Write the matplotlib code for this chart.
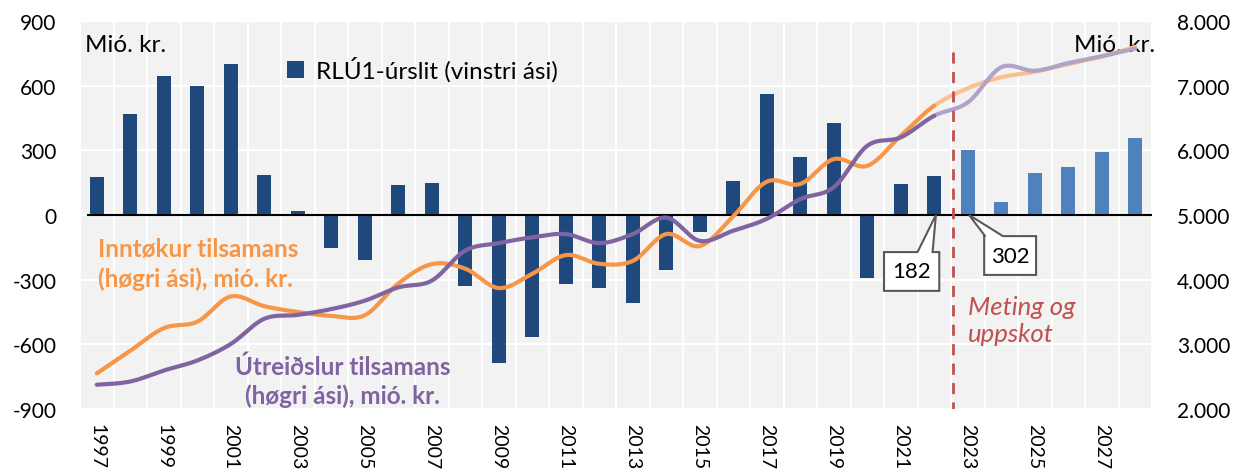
import numpy as np
import matplotlib
matplotlib.use("Agg")
import matplotlib.pyplot as plt
from matplotlib.patches import Polygon

plt.rcParams['font.family'] = ['Lato', 'DejaVu Sans']

years = list(range(1997, 2029))
balance = [178, 470, 645, 598, 700, 186, 20, -152, -208, 140, 150,
           -330, -685, -565, -320, -337, -410, -255, -77, 160, 562,
           270, 425, -290, 142, 182, 302, 60, 197, 225, 290, 355]
revenue = [2550, 2900, 3250, 3350, 3740, 3590, 3500, 3440, 3450, 3940, 4240,
           4170, 3870, 4090, 4380, 4245, 4290, 4705, 4520, 4980, 5515,
           5480, 5865, 5760, 6225, 6690, 6960, 7130, 7215, 7335, 7450, 7600]
expenses = [2375, 2425, 2595, 2750, 3005, 3395, 3455, 3545, 3675, 3880, 3985,
            4450, 4565, 4655, 4705, 4565, 4705, 4960, 4600, 4757, 4940,
            5245, 5430, 6070, 6200, 6535, 6740, 7285, 7230, 7350, 7455, 7575]
last_actual = 2022

dark_blue = '#1F497D'
light_blue = '#4F81BD'
orange = '#F79646'
light_orange = '#FAC090'
purple = '#8064A2'
light_purple = '#B3A2C7'
red = '#C0504D'

W, H = 1238, 477
fig = plt.figure(figsize=(W / 100, H / 100), dpi=100)
L, R, T, B = 80, 1152, 22, 410
ax = fig.add_axes([L / W, (H - B) / H, (R - L) / W, (B - T) / H])
ax2 = ax.twinx()

x = np.arange(len(years))
ax.set_facecolor('#F2F2F2')
ax.set_xlim(-0.5, len(years) - 0.5)
ax.set_ylim(-900, 900)
ax.set_yticks(np.arange(-900, 901, 300))
ax.set_yticklabels([f"{v}" for v in range(-900, 901, 300)])
ax.set_xticks(x[::2])
ax.set_xticklabels([str(y) for y in years[::2]], rotation=-90)
ax.set_xticks(np.arange(-0.5, len(years), 1), minor=True)
ax.grid(True, which='minor', axis='x', color='white', lw=1.5)
ax.grid(True, which='major', axis='y', color='white', lw=1.5)
ax.set_axisbelow(True)
for s in ax.spines.values():
    s.set_visible(False)
for s in ax2.spines.values():
    s.set_visible(False)
ax.tick_params(axis='both', which='both', length=0, labelsize=15)
ax.tick_params(axis='y', pad=17)
ax.tick_params(axis='x', pad=10, labelsize=14)

colors = [dark_blue if y <= last_actual else light_blue for y in years]
bars = ax.bar(x, balance, width=0.42, color=colors, zorder=2)
ax.plot([-0.26, len(years) - 0.5], [0, 0], color='black', lw=1.5, zorder=3)

# right axis
ax2.set_ylim(2000, 8000)
ax2.set_yticks(np.arange(2000, 8001, 1000))
ax2.set_yticklabels([f"{v // 1000}.000" for v in range(2000, 8001, 1000)])
ax2.tick_params(axis='y', length=0, labelsize=15, pad=18)


def catmull(xs, ys, n=30):
    xs = np.asarray(xs, float)
    ys = np.asarray(ys, float)
    px = np.concatenate([[xs[0]], xs, [xs[-1]]])
    py = np.concatenate([[ys[0]], ys, [ys[-1]]])
    ox, oy = [], []
    t = np.linspace(0, 1, n, endpoint=False)
    for i in range(1, len(px) - 2):
        for arr, out in ((px, ox), (py, oy)):
            p0, p1, p2, p3 = arr[i - 1], arr[i], arr[i + 1], arr[i + 2]
            out.extend(0.5 * ((2 * p1) + (-p0 + p2) * t +
                              (2 * p0 - 5 * p1 + 4 * p2 - p3) * t ** 2 +
                              (-p0 + 3 * p1 - 3 * p2 + p3) * t ** 3))
    ox.append(xs[-1]); oy.append(ys[-1])
    return np.array(ox), np.array(oy)


split = years.index(last_actual)
for vals, c1, c2 in ((revenue, orange, light_orange), (expenses, purple, light_purple)):
    sx, sy = catmull(x, vals)
    m1 = sx <= split
    m2 = sx >= split
    ax2.plot(sx[m2], sy[m2], color=c2, lw=3.0, solid_capstyle='round', zorder=4)
    ax2.plot(sx[m1], sy[m1], color=c1, lw=3.0, solid_capstyle='round', zorder=5)

# forecast divider
ax2.plot([split + 0.55, split + 0.55], [7520, 2000], color=red, lw=2, ls=(0, (4, 3)), zorder=6)
ax2.text(split + 1.0, 3380, "Meting og\nuppskot", color=red, fontsize=18.5,
         style='italic', va='center', ha='left', linespacing=1.2)

# texts
ax.text(0.005, 0.94, "Mió. kr.", transform=ax.transAxes, fontsize=17.5, va='center', ha='left')
ax.text(1.003, 0.94, "Mió. kr.", transform=ax.transAxes, fontsize=17.5, va='center', ha='right')
ax2.text(0.05, 4250, "Inntøkur tilsamans\n(høgri ási), mió. kr.", color=orange,
         fontsize=17.5, fontweight='bold', va='center', ha='left', linespacing=1.3)
ax2.text(7.33, 2440, "Útreiðslur tilsamans\n(høgri ási), mió. kr.", color=purple,
         fontsize=17.5, fontweight='bold', va='center', ha='center', linespacing=1.3)

leg = ax.legend([bars], ["RLÚ1-úrslit (vinstri ási)"], loc='upper left',
                bbox_to_anchor=(0.173, 0.965), frameon=False, fontsize=17.5,
                handlelength=0.7, handleheight=0.7, handletextpad=0.5)

# callouts (left axis units)
def callout(x0, x1, y0, y1, tip, base, label):
    pts = [(x0, y0), (base[0], y0), tip, (base[1], y0), (x1, y0), (x1, y1), (x0, y1)]
    ax.add_patch(Polygon(pts, closed=True, facecolor='white', edgecolor='#595959',
                         lw=1.5, zorder=7))
    ax.text((x0 + x1) / 2, (y0 + y1) / 2, label, ha='center', va='center',
            fontsize=16, zorder=8)

i22 = years.index(2022)
i23 = years.index(2023)
callout(i22 - 1.5, i22 + 0.15, -172, -352, (i22 + 0.05, 0), (i22 - 0.5, i22 - 0.05),
        str(balance[i22]))
callout(i23 + 0.49, i23 + 2.04, -98, -278, (i23 + 0.04, 0), (i23 + 0.52, i23 + 1.05),
        str(balance[i23]))

fig.savefig("out.png", dpi=100)
